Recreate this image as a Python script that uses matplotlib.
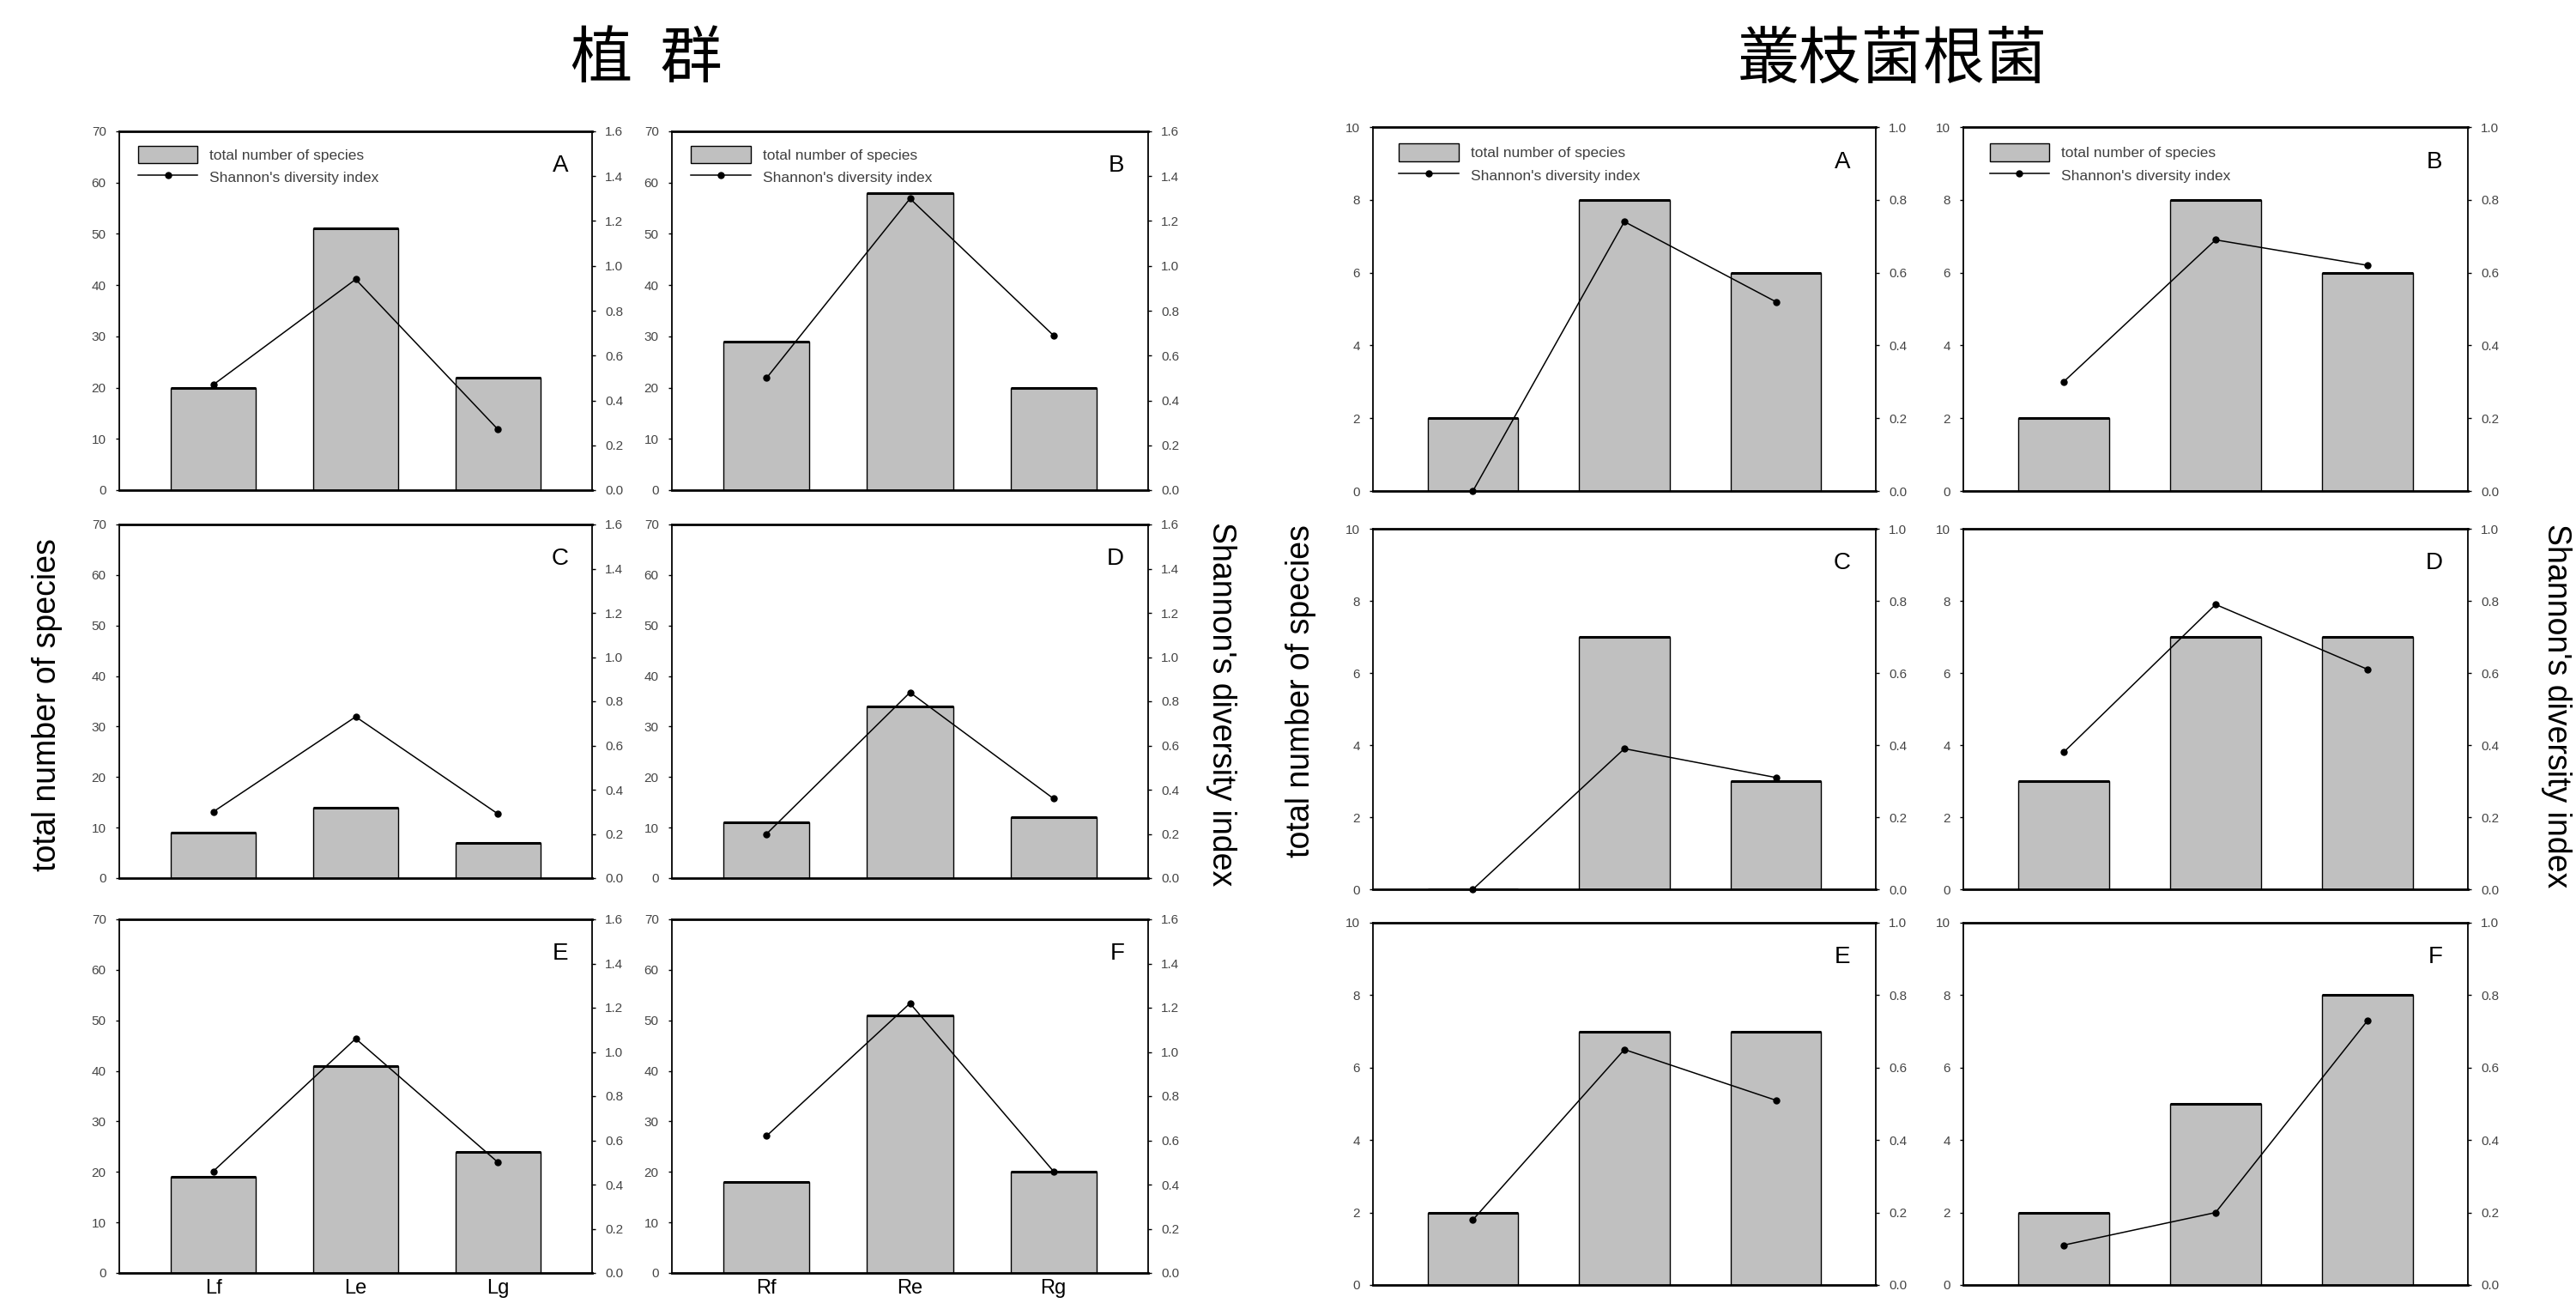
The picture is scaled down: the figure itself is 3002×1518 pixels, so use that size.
import matplotlib
matplotlib.use("Agg")
import matplotlib.pyplot as plt
import numpy as np
from matplotlib.ticker import FormatStrFormatter

# site labels (only shown under the bottom row of the left figure)
sites_l = ["Lf", "Le", "Lg"]
sites_r = ["Rf", "Re", "Rg"]
panel_letters = ["A", "B", "C", "D", "E", "F"]

# 植群 : total number of species (left axis) and Shannon index (right axis)
plant_a_species = [20, 51, 22]
plant_b_species = [29, 58, 20]
plant_c_species = [9, 14, 7]
plant_d_species = [11, 34, 12]
plant_e_species = [19, 41, 24]
plant_f_species = [18, 51, 20]

plant_a_shannon = [0.47, 0.94, 0.27]
plant_b_shannon = [0.50, 1.30, 0.69]
plant_c_shannon = [0.30, 0.73, 0.29]
plant_d_shannon = [0.20, 0.84, 0.36]
plant_e_shannon = [0.46, 1.06, 0.50]
plant_f_shannon = [0.62, 1.22, 0.46]

# 叢枝菌根菌
amf_a_species = [2, 8, 6]
amf_b_species = [2, 8, 6]
amf_c_species = [0, 7, 3]
amf_d_species = [3, 7, 7]
amf_e_species = [2, 7, 7]
amf_f_species = [2, 5, 8]

amf_a_shannon = [0.00, 0.74, 0.52]
amf_b_shannon = [0.30, 0.69, 0.62]
amf_c_shannon = [0.00, 0.39, 0.31]
amf_d_shannon = [0.38, 0.79, 0.61]
amf_e_shannon = [0.18, 0.65, 0.51]
amf_f_shannon = [0.11, 0.20, 0.73]

W, H = 3002, 1518
TICK_COLOR = "#454545"


# Lager en akse ut fra pikselkoordinater (venstre, hoyre, topp, bunn)
def px_axes(fig, left, right, top, bottom):
    return fig.add_axes([left / W, 1 - bottom / H, (right - left) / W, (bottom - top) / H])


def draw_panel(fig, box, species, shannon, letter, ymax, ystep, smax, sites=None,
               legend=False, leg_xy=(0.04, 0.96)):
    ax = px_axes(fig, *box)
    x = np.arange(len(species))
    bars = ax.bar(x, species, width=0.6, color="#c0c0c0", edgecolor="black",
                  linewidth=1.0, zorder=2)
    # thick top edge of the bars, as in the scan
    ax.hlines(species, x - 0.3, x + 0.3, color="black", linewidth=2.2, zorder=3)
    ax.set_xlim(-0.66, 2.66)
    ax.set_ylim(0, ymax)
    ax.set_yticks(list(range(0, ymax + 1, ystep)))

    ax2 = ax.twinx()
    line, = ax2.plot(x, shannon, color="black", linewidth=1.1, marker="o",
                     markersize=5, clip_on=False, zorder=4)
    ax2.set_ylim(0, smax)
    ax2.set_yticks(np.linspace(0, smax, 6 if smax == 1.0 else 9))
    ax2.yaxis.set_major_formatter(FormatStrFormatter("%.1f"))

    for a in (ax, ax2):
        a.tick_params(axis="y", direction="out", length=3, width=1.0,
                      labelsize=11, labelcolor=TICK_COLOR, pad=8)
    ax.spines["right"].set_visible(False)
    for s in ("left", "top", "bottom"):
        ax2.spines[s].set_visible(False)
    ax.spines["top"].set_linewidth(2.0)
    ax.spines["bottom"].set_linewidth(2.0)
    ax.spines["left"].set_linewidth(1.3)
    ax2.spines["right"].set_linewidth(1.3)

    if sites is not None:
        ax.set_xticks(x, sites)
        ax.tick_params(axis="x", length=0, labelsize=17, pad=5)
    else:
        ax.set_xticks([])

    if legend:
        ax2.legend([bars, line], ["total number of species", "Shannon's diversity index"],
                   loc="upper left", bbox_to_anchor=leg_xy, frameon=False,
                   fontsize=12.5, labelcolor="#404040", handlelength=4.0,
                   handleheight=1.45, handletextpad=0.8, labelspacing=0.35,
                   borderpad=0, borderaxespad=0)

    ax2.text(0.95, 0.935, letter, transform=ax2.transAxes, ha="right", va="top",
             fontsize=20)
    return ax


def main():
    plt.rcParams["font.family"] = ["Liberation Sans", "DejaVu Sans"]
    fig = plt.figure(figsize=(W / 100, H / 100), dpi=100)

    plant_species = [plant_a_species, plant_b_species, plant_c_species,
                     plant_d_species, plant_e_species, plant_f_species]
    plant_shannon = [plant_a_shannon, plant_b_shannon, plant_c_shannon,
                     plant_d_shannon, plant_e_shannon, plant_f_shannon]
    amf_species = [amf_a_species, amf_b_species, amf_c_species,
                   amf_d_species, amf_e_species, amf_f_species]
    amf_shannon = [amf_a_shannon, amf_b_shannon, amf_c_shannon,
                   amf_d_shannon, amf_e_shannon, amf_f_shannon]

    # panel boxes in pixels
    left_cols = [(139, 690), (783, 1338)]
    left_rows = [(153, 571), (611, 1023), (1071, 1483)]
    right_cols = [(1600, 2186), (2288, 2876)]
    right_rows = [(148, 572), (616, 1036), (1075, 1497)]

    for i in range(6):
        r, c = divmod(i, 2)
        sites = None
        if r == 2:
            sites = sites_l if c == 0 else sites_r
        box = (left_cols[c][0], left_cols[c][1], left_rows[r][0], left_rows[r][1])
        draw_panel(fig, box, plant_species[i], plant_shannon[i], panel_letters[i],
                   70, 10, 1.6, sites=sites, legend=(r == 0))

        box = (right_cols[c][0], right_cols[c][1], right_rows[r][0], right_rows[r][1])
        draw_panel(fig, box, amf_species[i], amf_shannon[i], panel_letters[i],
                   10, 2, 1.0, legend=(r == 0), leg_xy=(0.052, 0.955))

    cjk = ["Noto Sans CJK TC", "DejaVu Sans"]
    fig.text(753 / W, 1 - 70 / H, "植  群", family=cjk, fontsize=52,
             ha="center", va="center")
    fig.text(2205 / W, 1 - 70 / H, "叢枝菌根菌", family=cjk, fontsize=52,
             ha="center", va="center")

    fig.text(55 / W, 1 - 821 / H, "total number of species", rotation=90,
             fontsize=27, ha="center", va="center")
    fig.text(1423 / W, 1 - 820 / H, "Shannon's diversity index", rotation=270,
             fontsize=27, ha="center", va="center")
    fig.text(1516 / W, 1 - 805 / H, "total number of species", rotation=90,
             fontsize=27, ha="center", va="center")
    fig.text(2979 / W, 1 - 822 / H, "Shannon's diversity index", rotation=270,
             fontsize=27, ha="center", va="center")

    fig.savefig("out.png", dpi=100)


if __name__ == "__main__":
    main()
